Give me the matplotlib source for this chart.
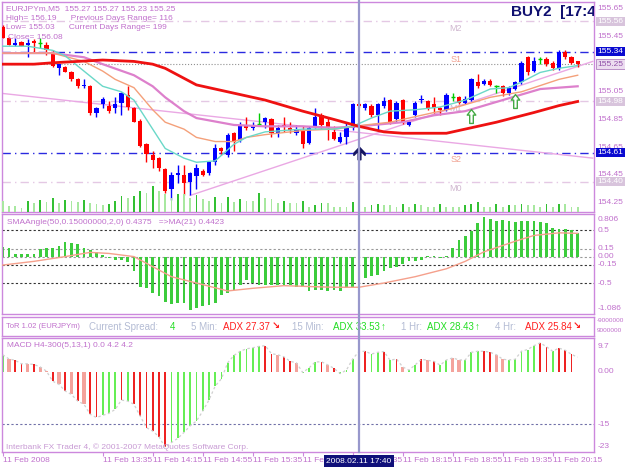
import matplotlib
matplotlib.use("Agg")
import matplotlib.pyplot as plt
from matplotlib import transforms
from matplotlib.lines import Line2D
from matplotlib.path import Path

plt.rcParams['font.family'] = ['Liberation Sans', 'DejaVu Sans']

# EURJPYm M5 candles, bar 0 .. 92
opens = [155.52, 155.44, 155.39, 155.41, 155.39, 155.42, 155.40, 155.39, 155.33, 155.22,
         155.23, 155.19, 155.14, 155.09, 155.09, 154.90, 154.96, 154.95, 154.93, 154.97,
         155.03, 154.93, 154.84, 154.67, 154.59, 154.57, 154.49, 154.35, 154.45, 154.45,
         154.40, 154.44, 154.48, 154.46, 154.54, 154.64, 154.59, 154.75, 154.70, 154.80,
         154.79, 154.82, 154.83, 154.85, 154.75, 154.81, 154.79, 154.75, 154.77, 154.68,
         154.80, 154.88, 154.83, 154.76, 154.69, 154.72, 154.79, 154.96, 154.93, 154.95,
         154.88, 154.95, 154.99, 154.85, 154.99, 154.81, 154.88, 154.99, 154.98, 154.96,
         154.93, 154.92, 155.01, 155.01, 154.97, 154.99, 155.12, 155.11, 155.13, 155.09,
         155.09, 155.04, 155.07, 155.12, 155.30, 155.20, 155.29, 155.29, 155.26, 155.22,
         155.34, 155.30, 155.27]
highs = [155.53, 155.45, 155.44, 155.42, 155.43, 155.43, 155.44, 155.41, 155.35, 155.25,
         155.24, 155.20, 155.15, 155.14, 155.10, 154.94, 155.01, 154.98, 155.01, 155.05,
         155.09, 154.94, 154.85, 154.68, 154.62, 154.58, 154.50, 154.47, 154.52, 154.52,
         154.47, 154.53, 154.49, 154.55, 154.67, 154.65, 154.75, 154.76, 154.83, 154.87,
         154.83, 154.90, 154.87, 154.86, 154.81, 154.87, 154.83, 154.81, 154.80, 154.80,
         154.93, 154.90, 154.86, 154.80, 154.76, 154.83, 154.97, 154.97, 154.97, 154.96,
         154.97, 155.01, 155.00, 154.98, 155.00, 154.84, 154.98, 155.03, 154.99, 155.01,
         154.94, 155.04, 155.04, 155.02, 155.02, 155.15, 155.18, 155.14, 155.14, 155.10,
         155.10, 155.09, 155.13, 155.27, 155.31, 155.30, 155.30, 155.30, 155.27, 155.35,
         155.35, 155.31, 155.27]
lows = [155.44, 155.39, 155.38, 155.38, 155.30, 155.33, 155.37, 155.32, 155.23, 155.17,
        155.19, 155.13, 155.08, 155.08, 154.88, 154.87, 154.93, 154.90, 154.90, 154.88,
        154.92, 154.83, 154.65, 154.54, 154.50, 154.48, 154.32, 154.27, 154.39, 154.30,
        154.30, 154.35, 154.44, 154.45, 154.52, 154.59, 154.58, 154.62, 154.69, 154.77,
        154.77, 154.80, 154.79, 154.72, 154.72, 154.76, 154.75, 154.74, 154.64, 154.67,
        154.79, 154.79, 154.70, 154.70, 154.68, 154.67, 154.77, 154.94, 154.92, 154.87,
        154.77, 154.93, 154.82, 154.83, 154.82, 154.80, 154.87, 154.97, 154.92, 154.90,
        154.88, 154.91, 154.98, 154.96, 154.96, 154.98, 155.08, 155.10, 155.09, 155.04,
        155.02, 155.03, 155.06, 155.11, 155.17, 155.19, 155.25, 155.24, 155.21, 155.21,
        155.29, 155.25, 155.23]
closes = [155.44, 155.39, 155.40, 155.38, 155.40, 155.40, 155.40, 155.35, 155.24, 155.25,
          155.19, 155.14, 155.09, 155.10, 154.90, 154.93, 155.00, 154.91, 154.96, 155.04,
          154.94, 154.83, 154.66, 154.60, 154.56, 154.50, 154.33, 154.45, 154.46, 154.39,
          154.46, 154.50, 154.45, 154.54, 154.64, 154.62, 154.74, 154.69, 154.80, 154.79,
          154.80, 154.82, 154.86, 154.75, 154.79, 154.80, 154.77, 154.77, 154.67, 154.79,
          154.87, 154.81, 154.79, 154.71, 154.72, 154.80, 154.96, 154.95, 154.96, 154.88,
          154.96, 154.98, 154.83, 154.97, 154.83, 154.83, 154.97, 155.00, 154.93, 154.93,
          154.92, 155.03, 155.01, 154.97, 155.00, 155.14, 155.09, 155.13, 155.10, 155.09,
          155.04, 155.08, 155.12, 155.26, 155.19, 155.27, 155.29, 155.25, 155.22, 155.34,
          155.30, 155.26, 155.25]
volumes = [11, 6, 6, 4, 11, 9, 12, 10, 14, 9, 12, 11, 10, 12, 9, 8, 7, 8, 11, 16,
           14, 16, 21, 19, 26, 21, 18, 14, 18, 18, 14, 17, 13, 11, 15, 9, 15, 10, 13, 11,
           11, 19, 14, 13, 9, 11, 9, 9, 11, 5, 7, 9, 9, 5, 5, 5, 10, 8, 5, 7,
           8, 7, 7, 5, 8, 5, 8, 7, 5, 5, 8, 5, 5, 5, 7, 8, 10, 5, 5, 8,
           5, 7, 7, 8, 7, 7, 5, 8, 5, 8, 8, 5, 5]

# moving averages read at selected bars
ma_fast_bars = [0, 4, 8, 10, 13, 16, 19, 21, 24, 26, 29, 31, 34, 37, 39, 42, 48, 53, 56, 59,
                62, 66, 70, 74, 78, 81, 83, 86, 89, 92]
ma_fast = [155.38, 155.38, 155.35, 155.31, 155.20, 155.09, 155.05, 154.99, 154.78, 154.64,
           154.57, 154.54, 154.55, 154.67, 154.72, 154.76, 154.78, 154.78, 154.80, 154.86,
           154.91, 154.92, 154.94, 154.99, 155.07, 155.08, 155.12, 155.19, 155.22, 155.24]
ma_mid_bars = [0, 8, 13, 16, 18, 21, 24, 26, 29, 31, 34, 37, 39, 42, 48, 53, 58, 62, 67, 72,
               78, 83, 89, 92]
ma_mid = [155.33, 155.33, 155.27, 155.20, 155.14, 155.08, 154.92, 154.83, 154.78, 154.72,
          154.69, 154.69, 154.72, 154.74, 154.77, 154.78, 154.81, 154.83, 154.88, 154.93,
          155.01, 155.05, 155.14, 155.17]
ma_slow_bars = [0, 8, 13, 16, 21, 24, 26, 29, 31, 37, 42, 48, 53, 57, 64, 69, 74, 80, 86, 92]
ma_slow = [155.33, 155.33, 155.30, 155.25, 155.17, 155.09, 155.01, 154.91, 154.86, 154.81,
           154.80, 154.80, 154.79, 154.80, 154.83, 154.88, 154.91, 154.99, 155.07, 155.09]
ma_red_bars = [0, 5, 8, 16, 21, 24, 26, 31, 37, 42, 48, 53, 57, 61, 64, 71, 74, 79, 85, 89, 92]
ma_red = [155.25, 155.25, 155.26, 155.28, 155.27, 155.25, 155.22, 155.10, 155.04, 154.99,
          154.91, 154.85, 154.80, 154.76, 154.75, 154.75, 154.78, 154.83, 154.90, 154.95, 154.98]
trend_down = ([-0.4, 94.4], [155.04, 154.57])
trend_up = ([30, 94.4], [154.30, 155.27])

price_ticks = [155.65, 155.45, 155.05, 154.85, 154.65, 154.45, 154.25]
pivot_levels = [155.56, 154.98, 154.40]
pivot_names = ["M2", "M1", "M0"]
sr_levels = [155.34, 154.61]
sr_names = ["S1", "S2"]
bid = 155.25

# signal arrows: (bar, price)
buy_arrows = [(75, 154.876), (82, 154.985)]
cursor_arrow = (57, 154.61)

# SMA angle histogram and its MA(21)
sma_angle = [0.19, 0.16, 0.05, 0.04, 0.04, 0.05, 0.14, 0.16, 0.17, 0.21, 0.27, 0.25, 0.24, 0.17,
             0.13, 0.08, 0.03, -0.02, -0.06, -0.06, -0.11, -0.27, -0.57, -0.60, -0.69, -0.75,
             -0.85, -0.90, -0.88, -0.88, -1.01, -0.97, -0.94, -0.91, -0.88, -0.72, -0.69, -0.63,
             -0.53, -0.44, -0.50, -0.53, -0.53, -0.53, -0.53, -0.53, -0.53, -0.57, -0.57, -0.65,
             -0.63, -0.63, -0.65, -0.63, -0.65, -0.60, -0.57, -0.50, -0.41, -0.37, -0.34, -0.27,
             -0.22, -0.20, -0.14, -0.09, -0.08, -0.06, 0.02, 0.01, -0.03, 0.02, 0.17, 0.32,
             0.39, 0.48, 0.63, 0.74, 0.71, 0.67, 0.69, 0.67, 0.65, 0.67, 0.67, 0.67, 0.65, 0.63,
             0.54, 0.52, 0.52, 0.50, 0.44]
sma_ma_bars = [0, 5, 10, 14, 17, 21, 24, 27, 32, 36, 40, 45, 50, 53, 57, 61, 66, 71, 74, 77,
               82, 85, 89, 92]
sma_ma = [-0.16, -0.09, 0.0, 0.08, 0.06, 0.0, -0.19, -0.38, -0.53, -0.65, -0.60, -0.55, -0.57,
          -0.58, -0.58, -0.50, -0.38, -0.23, -0.09, 0.09, 0.29, 0.40, 0.45, 0.44]
sma_levels = [0.5, 0.15, 0.0, -0.15, -0.5]

# MACD H4 histogram, colour code per bar: g rising, r falling, s weak falling
macd = [4.9, 3.7, 3.3, 2.3, 2.3, 2.1, 1.4, 0.2, -2.7, -3.6, -5.5, -6.5, -8.4, -9.3, -12.2,
        -13.1, -12.5, -11.9, -10.8, -8.1, -8.4, -9.3, -12.7, -16.0, -17.0, -18.6, -21.7, -20.3,
        -19.1, -17.4, -15.5, -14.1, -11.3, -8.1, -4.1, -2.0, 2.6, 4.7, 5.9, 6.6, 6.9, 7.3, 7.5,
        5.2, 4.9, 4.3, 3.0, 2.6, -0.2, 1.1, 2.8, 2.9, 2.0, 1.0, -0.5, 0.5, 3.7, 5.8, 5.9, 5.1,
        5.6, 5.8, 3.3, 3.7, 1.4, 0.5, 2.0, 3.6, 3.3, 3.0, 1.9, 3.4, 4.0, 3.4, 3.4, 5.6, 5.9,
        5.9, 5.6, 4.9, 3.6, 3.4, 3.6, 5.9, 6.4, 7.5, 8.3, 7.2, 5.9, 6.8, 6.2, 5.0, 4.2]
macd_col = "gsrrsrssrsrsrsrrgggrgrrrrrrgggggggggggggggrrsrrsgggrsrggggrggrgrsggrsrggssgggrrssgggggrrgrrr"

time_bars = [0, 16, 24, 32, 40, 48, 56, 64, 72, 80, 88]
time_labels = ["11 Feb 2008", "11 Feb 13:35", "11 Feb 14:15", "11 Feb 14:55", "11 Feb 15:35",
               "11 Feb 16:15", "11 Feb 17:35", "11 Feb 18:15", "11 Feb 18:55", "11 Feb 19:35",
               "11 Feb 20:15"]
cursor_bar = 57

W, H = 625, 469
LABEL = "#c070cc"
BORDER = "#cc88dd"

UP = Path.MOVETO
LN = Path.LINETO
hollow_arrow = Path([(0, 1), (0.62, 0.2), (0.26, 0.2), (0.26, -1), (-0.26, -1), (-0.26, 0.2),
                     (-0.62, 0.2), (0, 1)], [UP, LN, LN, LN, LN, LN, LN, Path.CLOSEPOLY])
solid_arrow = Path([(0, 1), (0.9, 0.05), (0.9, -0.3), (0.22, 0.35), (0.22, -1), (-0.22, -1),
                    (-0.22, 0.35), (-0.9, -0.3), (-0.9, 0.05), (0, 1)],
                   [UP, LN, LN, LN, LN, LN, LN, LN, LN, Path.CLOSEPOLY])


def rect(x0, y0, x1, y1):
    return [x0 / W, 1 - y1 / H, (x1 - x0) / W, (y1 - y0) / H]


fig = plt.figure(figsize=(6.25, 4.69), dpi=100)
fig.patch.set_facecolor("white")

ax = fig.add_axes(rect(2, 2, 594, 212))
ax_sma = fig.add_axes(rect(2, 214, 594, 314), sharex=ax)
ax_tor = fig.add_axes(rect(2, 317, 594, 336), sharex=ax)
ax_macd = fig.add_axes(rect(2, 338, 594, 452), sharex=ax)

# ---- main price panel
ax.set_ylim(154.18, 155.70)
vol_ax = ax.twinx()
vol_ax.set_ylim(0, 210)
vol_ax.set_axis_off()
for i, v in enumerate(volumes):
    col = "#33c033" if i > 0 and v > volumes[i - 1] else "#a8e8a0"
    vol_ax.bar(i, v, width=0.3, color=col, linewidth=0)

xmin, xmax = -0.11, 94.61
for a in (ax, ax_sma, ax_tor, ax_macd):
    a.set_xlim(xmin, xmax)
    a.tick_params(left=False, right=False, bottom=False, labelleft=False, labelbottom=False,
                  labelright=False)
    for s in a.spines.values():
        s.set_color(BORDER)
        s.set_linewidth(1)

for i in range(len(opens)):
    o, h, l, c = opens[i], highs[i], lows[i], closes[i]
    if c > o:
        col = "#0000ff"
    elif c < o:
        col = "#ff0000"
    else:
        col = "#00cc00"
    ax.vlines(i, l, h, color=col, linewidth=1, zorder=3)
    if c == o:
        ax.hlines(o, i - 0.35, i + 0.35, color=col, linewidth=1, zorder=3)
    else:
        ax.bar(i, max(abs(c - o), 0.006), bottom=min(o, c), width=0.66, color=col,
               linewidth=0, zorder=3)

ax.plot(*trend_down, color="#eaa8e4", linewidth=1, zorder=2)
ax.plot(*trend_up, color="#eaa8e4", linewidth=1, zorder=2)
ax.plot(ma_slow_bars, ma_slow, color="#dd80cc", linewidth=1.6, zorder=4)
ax.plot(ma_mid_bars, ma_mid, color="#f4a07a", linewidth=1, zorder=4)
ax.plot(ma_fast_bars, ma_fast, color="#6ad8c8", linewidth=1, zorder=4)
ax.plot(ma_red_bars, ma_red, color="#ee1111", linewidth=2, zorder=4)

for lv, nm in zip(pivot_levels, pivot_names):
    ax.axhline(lv, color="#e4c8e4", linewidth=1, linestyle=(0, (6, 3, 1, 3)), zorder=1)
    ax.text(72.5, lv - 0.02, nm, color="#d0b8d0", fontsize=6.5, ha="center", va="top")
for lv, nm in zip(sr_levels, sr_names):
    ax.axhline(lv, color="#2a2ae0", linewidth=1, linestyle=(0, (6, 3, 1, 3)), zorder=1)
    ax.text(72.5, lv - 0.02, nm, color="#f0a090", fontsize=6.5, ha="center", va="top")
ax.axhline(bid, color="#909090", linewidth=0.8, linestyle=":", zorder=1)

ytr = transforms.blended_transform_factory(ax.transAxes, ax.transData)
for p in price_ticks:
    ax.text(1.006, p, f"{p:.2f}", transform=ytr, color=LABEL, fontsize=6, va="center",
            clip_on=False)
for lv in pivot_levels:
    ax.text(1.006, lv, f"{lv:.2f}", transform=ytr, color="white", fontsize=6, va="center",
            clip_on=False, bbox=dict(boxstyle="square,pad=0.15", fc="#d8c4dc", ec="none"))
for lv in sr_levels:
    ax.text(1.006, lv, f"{lv:.2f}", transform=ytr, color="white", fontsize=6, va="center",
            clip_on=False, bbox=dict(boxstyle="square,pad=0.15", fc="#0a0ad0", ec="none"))
ax.text(1.006, bid, f"{bid:.2f}", transform=ytr, color="#9050a8", fontsize=6, va="center",
        clip_on=False, bbox=dict(boxstyle="square,pad=0.15", fc="#ecdcf0", ec="#b080c0",
                                 linewidth=0.6))

ax.text(0.006, 0.985, "EURJPYm,M5  155.27 155.27 155.23 155.25", transform=ax.transAxes,
        color=LABEL, fontsize=6, va="top")
ax.text(0.006, 0.94, "High= 156.19      Previous Days Range= 116", transform=ax.transAxes,
        color=LABEL, fontsize=6, va="top")
ax.text(0.006, 0.895, "Low= 155.03      Current Days Range= 199", transform=ax.transAxes,
        color=LABEL, fontsize=6, va="top")
ax.text(0.01, 0.85, "Close= 156.08", transform=ax.transAxes, color=LABEL, fontsize=6, va="top")
ax.text(81.3, 155.63, "BUY2  [17:4", color="#101070", fontsize=11, fontweight="bold",
        va="center", ha="left", clip_on=True, zorder=6)

for b, p in buy_arrows:
    ax.plot(b, p, marker=hollow_arrow, markersize=10, markerfacecolor="white",
            markeredgecolor="#44aa44", markeredgewidth=1, linestyle="none", zorder=6)
ax.plot(*cursor_arrow, marker=solid_arrow, markersize=9, color="#141460", linestyle="none",
        zorder=6)

# ---- SMA angle panel
ax_sma.set_ylim(-1.086, 0.806)
for lv in sma_levels:
    dark = lv in (0.5, -0.15, -0.5)
    ax_sma.axhline(lv, color="#333333" if dark else "#999999", linewidth=0.8,
                   linestyle=(0, (2, 2)), zorder=1)
ax_sma.bar(range(len(sma_angle)), sma_angle, width=0.42, color="#3ccc3c", linewidth=0,
           zorder=2)
ax_sma.plot(sma_ma_bars, sma_ma, color="#f5a08c", linewidth=1, zorder=3)
ax_sma.text(0.008, 0.92, "SMAAngle(50,0.15000000,2,0) 0.4375   =>MA(21) 0.4423",
            transform=ax_sma.transAxes, color=LABEL, fontsize=6, va="center")
str_ = transforms.blended_transform_factory(ax_sma.transAxes, ax_sma.transData)
for v, t in [(0.5, "0.5"), (0.15, "0.15"), (0.0, "0.00"), (-0.15, "-0.15"), (-0.5, "-0.5")]:
    ax_sma.text(1.006, v, t, transform=str_, color=LABEL, fontsize=6, va="center",
                clip_on=False)
ax_sma.text(1.006, 0.98, "0.806", transform=ax_sma.transAxes, color=LABEL, fontsize=6,
            va="top", clip_on=False)
ax_sma.text(1.006, 0.02, "-1.086", transform=ax_sma.transAxes, color=LABEL, fontsize=6,
            va="bottom", clip_on=False)

# ---- ToR panel
ax_tor.set_ylim(0, 1)
tor_items = [(6, "ToR 1.02 (EURJPYm)", "#c070cc", 5.5), (89, "Current Spread:", "#b4bcd4", 7),
             (170, "4", "#22dd22", 7), (191, "5 Min:", "#b4bcd4", 7),
             (223, "ADX 27.37", "#ff2020", 7), (272, "\u2198", "#ff2020", 7),
             (292, "15 Min:", "#b4bcd4", 7), (333, "ADX 33.53", "#22dd22", 7),
             (381, "\u2191", "#22dd22", 7), (401, "1 Hr:", "#b4bcd4", 7),
             (427, "ADX 28.43", "#22dd22", 7), (475, "\u2191", "#22dd22", 7),
             (495, "4 Hr:", "#b4bcd4", 7), (525, "ADX 25.84", "#ff2020", 7),
             (573, "\u2198", "#ff2020", 7)]
for px, t, c, fs in tor_items:
    ax_tor.text((px - 2) / 592, 0.5, t, transform=ax_tor.transAxes, color=c, fontsize=fs,
                va="center", fontweight="bold" if t in ("\u2198", "\u2191") else "normal")
ax_tor.text(1.004, 0.8, "-9000000", transform=ax_tor.transAxes, color=LABEL, fontsize=4.6,
            va="center", clip_on=False)
ax_tor.text(1.004, 0.3, "9000000", transform=ax_tor.transAxes, color=LABEL, fontsize=4.6,
            va="center", clip_on=False)

# ---- MACD panel
ax_macd.set_ylim(-23, 9.7)
cmap = {"g": "#66ee55", "r": "#ee2222", "s": "#f4a39c"}
for i, (v, c) in enumerate(zip(macd, macd_col)):
    ax_macd.bar(i, v, width=0.5 if c == "s" else 0.3, color=cmap[c], linewidth=0, zorder=2)
ax_macd.plot(range(len(macd)), macd, color="#d0d0d0", linewidth=0.9, linestyle=(0, (2, 2)),
             zorder=3)
ax_macd.axhline(-15, color="#7070a8", linewidth=0.8, linestyle=(0, (2, 2)), zorder=1)
ax_macd.text(0.008, 0.93, "MACD H4-300(5,13,1) 0.0 4.2 4.2", transform=ax_macd.transAxes,
             color=LABEL, fontsize=6, va="center")
ax_macd.text(0.006, 0.04, "Interbank FX Trader 4, \u00a9 2001-2007 MetaQuotes Software Corp.",
             transform=ax_macd.transAxes, color="#c89ad4", fontsize=6, va="center")
mtr = transforms.blended_transform_factory(ax_macd.transAxes, ax_macd.transData)
for v, t in [(0.0, "0.00"), (-15, "-15")]:
    ax_macd.text(1.006, v, t, transform=mtr, color=LABEL, fontsize=6, va="center",
                 clip_on=False)
ax_macd.text(1.006, 0.96, "9.7", transform=ax_macd.transAxes, color=LABEL, fontsize=6,
             va="top", clip_on=False)
ax_macd.text(1.006, 0.02, "-23", transform=ax_macd.transAxes, color=LABEL, fontsize=6,
             va="bottom", clip_on=False)

ax_macd.set_xticks(time_bars)
ax_macd.tick_params(bottom=True, length=3, color=BORDER, direction="out")
xt = transforms.blended_transform_factory(ax_macd.transData, ax_macd.transAxes)
for b, t in zip(time_bars, time_labels):
    ax_macd.text(b, -0.04, t, transform=xt, color=LABEL, fontsize=6, va="top", ha="left",
                 clip_on=False)

# cursor line through all panels and its date box
ctr = transforms.blended_transform_factory(ax.transData, fig.transFigure)
fig.add_artist(Line2D([cursor_bar, cursor_bar], [1 - 452 / H, 1 - 1 / H], transform=ctr,
                      color="#9898cc", linewidth=1.6, zorder=10))
fig.text(cursor_bar, 1 - 461 / H, "2008.02.11 17:40", transform=ctr, color="white",
         fontsize=6, ha="center", va="center", zorder=11,
         bbox=dict(boxstyle="square,pad=0.25", fc="#10107a", ec="none"))

fig.savefig("out.png", dpi=100)
